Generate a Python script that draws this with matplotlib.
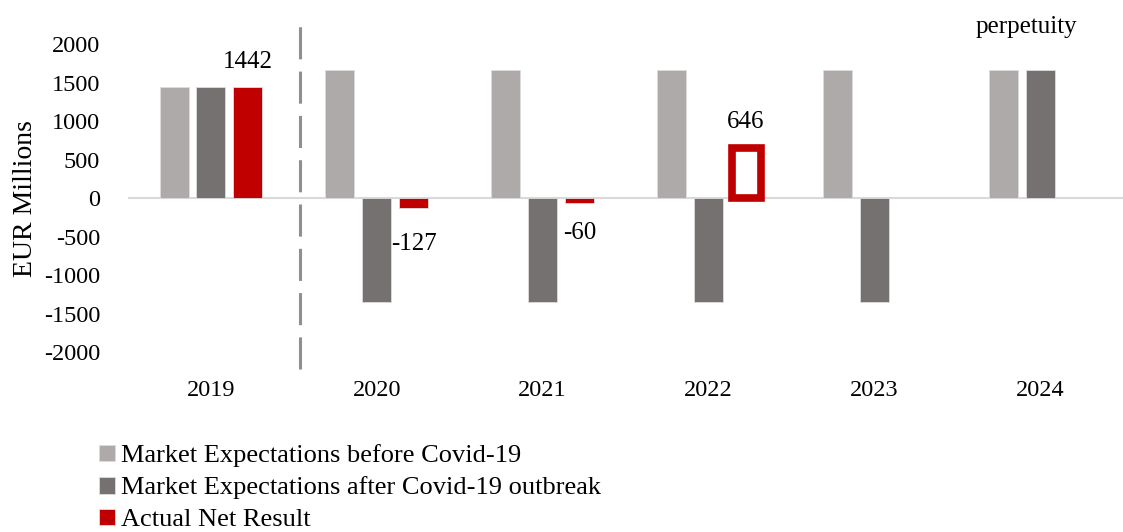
import numpy as np
import matplotlib.pyplot as plt

plt.rcParams['font.family'] = ['Liberation Serif', 'DejaVu Serif']
plt.rcParams['axes.unicode_minus'] = False

years = ['2019', '2020', '2021', '2022', '2023', '2024']
before_covid = [1442, 1670, 1670, 1670, 1670, 1670]
after_covid = [1442, -1350, -1350, -1350, -1350, 1670]
actual = [1442, -127, -60, 646, np.nan, np.nan]
series_names = ['Market Expectations before Covid-19',
                'Market Expectations after Covid-19 outbreak',
                'Actual Net Result']

c_before = '#AEAAAA'
c_after = '#767171'
c_red = '#C00000'

fig = plt.figure(figsize=(11.23, 5.32), dpi=100)
ax = fig.add_axes([0.114, 0.338, 0.886, 0.579])

x = np.arange(len(years))
w = 0.175
off = 0.222

b1 = ax.bar(x - off, before_covid, w, color=c_before, edgecolor='#DDDDDD', linewidth=0.6, label=series_names[0])
b2 = ax.bar(x, after_covid, w, color=c_after, edgecolor='#DDDDDD', linewidth=0.6, label=series_names[1])

# 2022 result drawn as an outlined bar, the rest solid
solid = [v if i != 3 else np.nan for i, v in enumerate(actual)]
b3 = ax.bar(x + off, solid, w, color=c_red, edgecolor='#DDDDDD', linewidth=0.6, label=series_names[2])
ax.bar(x[3] + off + 0.01, actual[3], w, color='white', edgecolor=c_red, linewidth=5.5, zorder=3)

ax.axhline(0, color='#D9D9D9', linewidth=1.5, zorder=0)

# value labels on the actual results
label_offsets = {0: 10, 1: -18, 2: -14, 3: 11}
for i, dy in label_offsets.items():
    ax.annotate(f'{actual[i]:.0f}', (x[i] + off, actual[i]), xytext=(0, dy), textcoords='offset points',
                ha='center', va='bottom' if dy > 0 else 'top', fontsize=18)

ax.text(4.92, 2220, 'perpetuity', ha='center', va='center', fontsize=18)

# divider between actual and forecast years
ax.plot([0.535, 0.535], [-2220, 2330], color='#8F8F8F', linewidth=2.2, linestyle=(0, (10.5, 4)),
        clip_on=False)

ax.set_xlim(-0.5, 5.5)
ax.set_ylim(-2000, 2000)
ax.set_yticks(np.arange(-2000, 2001, 500))
ax.set_xticks(x)
ax.set_xticklabels(years)
ax.tick_params(axis='both', length=0, labelsize=17.5)
ax.tick_params(axis='x', pad=20)
ax.tick_params(axis='y', pad=20)
for s in ax.spines.values():
    s.set_visible(False)
ax.set_ylabel('EUR Millions', fontsize=20, labelpad=4)

fig.legend(handles=[b1, b2, b3], labels=series_names, loc='upper left',
           bbox_to_anchor=(0.088, 0.165), frameon=False, fontsize=19,
           handlelength=0.6, handleheight=0.6, handletextpad=0.25, labelspacing=0.35,
           borderaxespad=0, borderpad=0)

fig.savefig('out.png', dpi=100)
